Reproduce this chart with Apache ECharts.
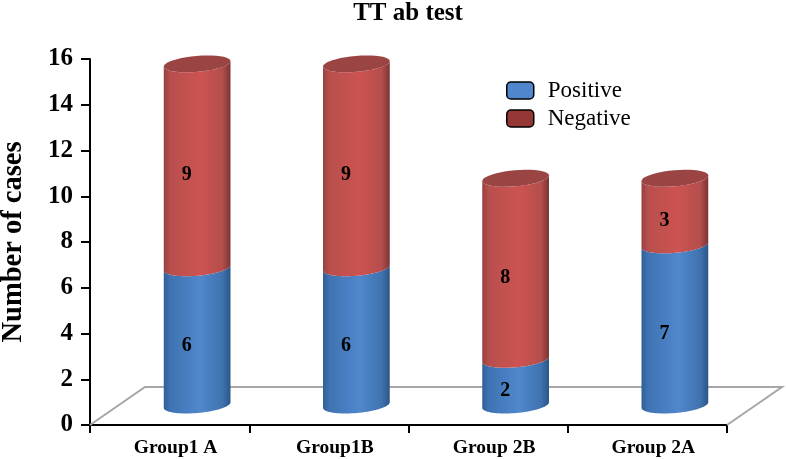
<!DOCTYPE html>
<html>
<head>
<meta charset="utf-8">
<style>html,body{margin:0;padding:0;background:#fff}#chart{width:786px;height:459px}</style>
<script src="https://cdn.jsdelivr.net/npm/echarts@6/dist/echarts.min.js"></script>
</head>
<body>
<div id="chart"></div>
<script>
const categories = ['Group1 A', 'Group1B', 'Group 2B', 'Group 2A'];
const positive = [6, 6, 2, 7];
const negative = [9, 9, 8, 3];

const serif = '"Liberation Serif", "Times New Roman", serif';

// depth shift of the cylinders from the axis plane, in px
const depthX = 27.5;
const depthY = -20;
const radiusX = 33.5;
const radiusY = 8;
const tilt = -5 * Math.PI / 180;

function ellipsePoint(cx, cy, t) {
  const ex = radiusX * Math.cos(t);
  const ey = radiusY * Math.sin(t);
  return [cx + ex * Math.cos(tilt) - ey * Math.sin(tilt), cy + ex * Math.sin(tilt) + ey * Math.cos(tilt)];
}

function arc(cx, cy, from, to) {
  const pts = [];
  for (let i = 0; i <= 40; i++) {
    pts.push(ellipsePoint(cx, cy, from + (to - from) * i / 40));
  }
  return pts;
}

function bodyGradient(stops) {
  return {
    type: 'linear', x: 0, y: 0, x2: 1, y2: 0,
    colorStops: stops.map((c, i) => ({ offset: [0, 0.1, 0.55, 0.88, 1][i], color: c }))
  };
}

function cylinderItem(stops, capColor) {
  return function (params, api) {
    const bottom = api.coord([api.value(0), api.value(1)]);
    const top = api.coord([api.value(0), api.value(2)]);
    const cx = bottom[0] + depthX;
    const by = bottom[1] + depthY;
    // the capped top sits a little below the plain value line, as in the 3D view
    const ty = top[1] + depthY + (capColor ? 2 : 0);
    // lower edge of the segment runs right to left, then back along the upper edge
    const body = arc(cx, by, 0, Math.PI).concat(arc(cx, ty, Math.PI, 0));
    const children = [{
      type: 'polygon',
      shape: { points: body },
      style: { fill: bodyGradient(stops) }
    }];
    if (capColor) {
      children.push({
        type: 'polygon',
        shape: { points: arc(cx, ty, 0, Math.PI * 2) },
        style: { fill: capColor }
      });
    }
    children.push({
      type: 'text',
      x: bottom[0] + 17,
      y: (by + ty) / 2 + 9,
      style: {
        text: String(api.value(2) - api.value(1)),
        font: 'bold 20px ' + serif,
        fill: '#000',
        align: 'center',
        verticalAlign: 'middle'
      }
    });
    return { type: 'group', children: children };
  };
}

function floorItem(params, api) {
  const a = api.coord([0, 0]);
  const g = params.coordSys;
  const left = g.x;
  const right = g.x + g.width;
  const y = a[1];
  return {
    type: 'polyline',
    shape: { points: [[left, y], [left + 55, y - 38], [right + 55, y - 38], [right, y]] },
    style: { stroke: '#a6a6a6', lineWidth: 2, fill: null }
  };
}

const blueStops = ['#2f5f98', '#3f73b2', '#5088cd', '#3f72af', '#2a5688'];
const redStops = ['#974140', '#b84f4d', '#cd5351', '#b44e4c', '#7c3433'];

const chart = echarts.init(document.getElementById('chart'));
chart.setOption({
  animation: false,
  backgroundColor: '#fff',
  title: {
    text: 'TT ab test',
    left: 403,
    top: -4,
    textAlign: 'center',
    textStyle: { fontFamily: serif, fontWeight: 'bold', fontSize: 25, color: '#000' }
  },
  legend: {
    orient: 'vertical',
    left: 506,
    top: 79,
    padding: 0,
    itemWidth: 27,
    itemHeight: 17,
    itemGap: 5,
    icon: 'roundRect',
    textStyle: { fontFamily: serif, fontSize: 23, color: '#000', padding: [0, 0, 0, 9] },
    data: [
      { name: 'Positive', itemStyle: { color: '#4f86cc', borderColor: '#000', borderWidth: 1.5 } },
      { name: 'Negative', itemStyle: { color: '#953735', borderColor: '#000', borderWidth: 1.5 } }
    ]
  },
  grid: { left: 90, top: 59, width: 637, height: 366, outerBoundsMode: 'none' },
  xAxis: {
    type: 'category',
    data: categories,
    axisLine: { lineStyle: { color: '#000', width: 2 } },
    axisTick: { show: true, alignWithLabel: false, length: 8, lineStyle: { color: '#000', width: 2 } },
    axisLabel: { fontFamily: serif, fontWeight: 'bold', fontSize: 19.5, color: '#000', margin: 13, padding: [0, 0, 0, 12] }
  },
  yAxis: {
    type: 'value',
    min: 0,
    max: 16,
    interval: 2,
    name: 'Number of cases',
    nameLocation: 'middle',
    nameGap: 62,
    nameTextStyle: { fontFamily: serif, fontWeight: 'bold', fontSize: 28.5, color: '#000' },
    splitLine: { show: false },
    axisLine: { show: true, lineStyle: { color: '#000', width: 2 } },
    axisTick: { show: true, length: 9, lineStyle: { color: '#000', width: 2 } },
    axisLabel: { fontFamily: serif, fontWeight: 'bold', fontSize: 25, color: '#000', margin: 17, padding: [3, 0, 0, 0] }
  },
  series: [
    {
      type: 'custom',
      name: 'floor',
      silent: true,
      clip: false,
      z: 1,
      renderItem: floorItem,
      data: [[0, 0]]
    },
    {
      type: 'custom',
      name: 'Positive',
      clip: false,
      z: 2,
      itemStyle: { color: '#4f86cc' },
      renderItem: cylinderItem(blueStops, null),
      encode: { x: 0, y: [1, 2] },
      data: positive.map((v, i) => [i, 0, v])
    },
    {
      type: 'custom',
      name: 'Negative',
      clip: false,
      z: 3,
      itemStyle: { color: '#953735' },
      renderItem: cylinderItem(redStops, '#9a4443'),
      encode: { x: 0, y: [1, 2] },
      data: negative.map((v, i) => [i, positive[i], positive[i] + v])
    }
  ]
});
</script>
</body>
</html>
